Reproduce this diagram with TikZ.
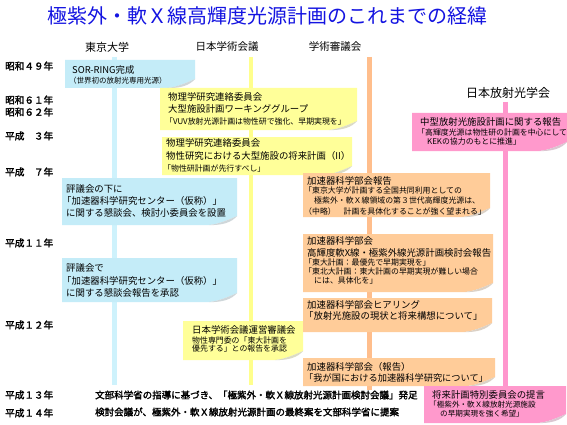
\documentclass[tikz,border=0pt]{standalone}
\usepackage{fontspec}
\setmainfont{Noto Sans CJK JP}[AutoFakeBold=2]
\definecolor{cyanbox}{RGB}{196,236,248}
\definecolor{cyanline}{RGB}{206,242,252}
\definecolor{yelbox}{RGB}{255,255,153}
\definecolor{yelline}{RGB}{255,255,140}
\definecolor{orbox}{RGB}{255,204,153}
\definecolor{orline}{RGB}{255,190,140}
\definecolor{pkbox}{RGB}{255,153,204}
\definecolor{pkline}{RGB}{255,150,205}
\definecolor{ttlblue}{RGB}{20,20,225}
\newcommand{\foldbox}[5]{%
  \fill[#5] (#1,#2) -- (#3,#2) -- (#3,#4-9) .. controls (#3-9,#4-5) and (#3-18,#4-1) .. (#3-28,#4) -- (#1,#4) -- cycle;
  \fill[#5!60!black!35!white] (#3-28,#4) .. controls (#3-18,#4-1) and (#3-9,#4-5) .. (#3,#4-9) .. controls (#3-5,#4-3) and (#3-14,#4+0.5) .. cycle;
}
\begin{document}
\begin{tikzpicture}[x=1pt,y=-1pt,
  every node/.style={inner sep=0pt,anchor=west},
  big/.style={font=\fontsize{9.4}{10}\selectfont},
  sml/.style={font=\fontsize{7.9}{8}\selectfont},
  yearlab/.style={font=\fontsize{9.6}{10}\selectfont\bfseries},
  btxt/.style={font=\fontsize{9.5}{10}\selectfont\bfseries},
  hdr/.style={anchor=center,font=\fontsize{10.5}{11}\selectfont},
  vline/.style={line width=4.5pt}]
\useasboundingbox (0,0) rectangle (567,425);
\fill[white] (0,0) rectangle (567,425);

% title
\node[anchor=center,text=ttlblue,font=\fontsize{20}{22}\selectfont] (title) at (267,16) {極紫外・軟Ｘ線高輝度光源計画のこれまでの経緯};

% headers
\node[hdr,font=\fontsize{11}{12}\selectfont] (h1) at (107,47) {東京大学};
\node[hdr] (h2) at (227,47) {日本学術会議};
\node[hdr] (h3) at (335,47) {学術審議会};
\node[hdr,font=\fontsize{12}{13}\selectfont] (h4) at (508,93) {日本放射光学会};

% vertical lines
\coordinate (ct) at (114.5,57); \coordinate (cb) at (114.5,385);
\coordinate (yt) at (251,57);   \coordinate (yb) at (251,385);
\coordinate (ot) at (369.5,57); \coordinate (ob) at (369.5,390);
\coordinate (pt) at (505.5,102); \coordinate (pb) at (505.5,387);
\draw[vline,cyanline] (ct) -- (cb);
\draw[vline,yelline] (yt) -- (yb);
\draw[vline,orline] (ot) -- (ob);
\draw[vline,pkline,line width=5pt] (pt) -- (pb);

% years
\node[yearlab] (y49) at (5,66) {昭和４９年};
\node[yearlab] (y61) at (5,100) {昭和６１年};
\node[yearlab] (y62) at (5,112) {昭和６２年};
\node[yearlab] (y3) at (5,136) {平成　３年};
\node[yearlab] (y7) at (5,172) {平成　７年};
\node[yearlab] (y11) at (5,243) {平成１１年};
\node[yearlab] (y12) at (5,325) {平成１２年};
\node[yearlab] (y13) at (5,395) {平成１３年};
\node[yearlab] (y14) at (5,413) {平成１４年};

% cyan boxes
\foldbox{65}{60}{195}{88}{cyanbox}
\node[big] (c1a) at (72,70) {SOR-RING完成};
\node[font=\fontsize{7.5}{8}\selectfont] (c1b) at (69,81) {（世界初の放射光専用光源）};

\foldbox{62}{178}{237}{225}{cyanbox}
\node[big] (c2a) at (66,189) {評議会の下に};
\node[big] (c2b) at (62,201) {「加速器科学研究センター（仮称）」};
\node[big] (c2c) at (66,213) {に関する懇談会、検討小委員会を設置};

\foldbox{62}{258}{237}{302}{cyanbox}
\node[big] (c3a) at (66,268) {評議会で};
\node[big] (c3b) at (62,280.5) {「加速器科学研究センター（仮称）」};
\node[big] (c3c) at (66,292.5) {に関する懇談会報告を承認};

% yellow boxes
\foldbox{160}{88}{357}{130}{yelbox}
\node[big] (y1a) at (168,97) {物理学研究連絡委員会};
\node[big] (y1b) at (168,109) {大型施設計画ワーキンググループ};
\node[sml] (y1c) at (165,122) {「VUV放射光源計画は物性研で強化、早期実現を」};

\foldbox{162}{137}{352}{175}{yelbox}
\node[big] (y2a) at (166,143) {物理学研究連絡委員会};
\node[big] (y2b) at (166,156) {物性研究における大型施設の将来計画（II）};
\node[sml] (y2c) at (163,168) {「物性研計画が先行すべし」};

\foldbox{183}{321}{303}{360}{yelbox}
\node[big] (y3a) at (192,330) {日本学術会議運営審議会};
\node[sml] (y3b) at (192,340) {物性専門委の「東大計画を};
\node[sml] (y3c) at (192,349) {優先する」との報告を承認};

% orange boxes
\foldbox{303}{173}{490}{217}{orbox}
\node[big] (o1a) at (307,180.5) {加速器科学部会報告};
\node[sml] (o1b) at (304,190.5) {「東京大学が計画する全国共同利用としての};
\node[sml] (o1c) at (314,200.5) {極紫外・軟Ｘ線領域の第３世代高輝度光源は、};
\node[sml] (o1d) at (304,211) {（中略）　計画を具体化することが強く望まれる」};

\foldbox{303}{234}{493}{292}{orbox}
\node[big] (o2a) at (307,241) {加速器科学部会};
\node[big] (o2b) at (307,252.5) {高輝度軟X線・極紫外線光源計画検討会報告};
\node[sml] (o2c) at (304,262.5) {「東大計画：最優先で早期実現を」};
\node[sml] (o2d) at (304,271.5) {「東北大計画：東大計画の早期実現が難しい場合};
\node[sml] (o2e) at (314,280.5) {には、具体化を」};

\foldbox{303}{298}{492}{332}{orbox}
\node[big] (o3a) at (307,305) {加速器科学部会ヒアリング};
\node[big] (o3b) at (304,316) {「放射光施設の現状と将来構想について」};

\foldbox{303}{358}{495}{386}{orbox}
\node[big] (o4a) at (307,366.5) {加速器科学部会（報告）};
\node[big,font=\fontsize{9.2}{10}\selectfont] (o4b) at (304,378) {「我が国における加速器科学研究について」};

% pink boxes
\foldbox{412}{113}{567}{151}{pkbox}
\node[big] (p1a) at (420,122) {中型放射光施設計画に関する報告};
\node[sml] (p1b) at (417,132.5) {「高輝度光源は物性研の計画を中心にして};
\node[sml] (p1c) at (427,141.5) {KEKの協力のもとに推進」};

\foldbox{424}{386}{566}{423}{pkbox}
\node[big] (p2a) at (432,395) {将来計画特別委員会の提言};
\node[font=\fontsize{7.6}{8}\selectfont] (p2b) at (429,404.5) {「極紫外・軟Ｘ線放射光源施設};
\node[font=\fontsize{7.6}{8}\selectfont] (p2c) at (440,413.5) {の早期実現を強く希望」};

% bottom lines
\node[btxt] (b1) at (95,395) {文部科学省の指導に基づき、「極紫外・軟Ｘ線放射光源計画検討会議」発足};
\node[btxt] (b2) at (95,412) {検討会議が、極紫外・軟Ｘ線放射光源計画の最終案を文部科学省に提案};
\end{tikzpicture}
\end{document}
